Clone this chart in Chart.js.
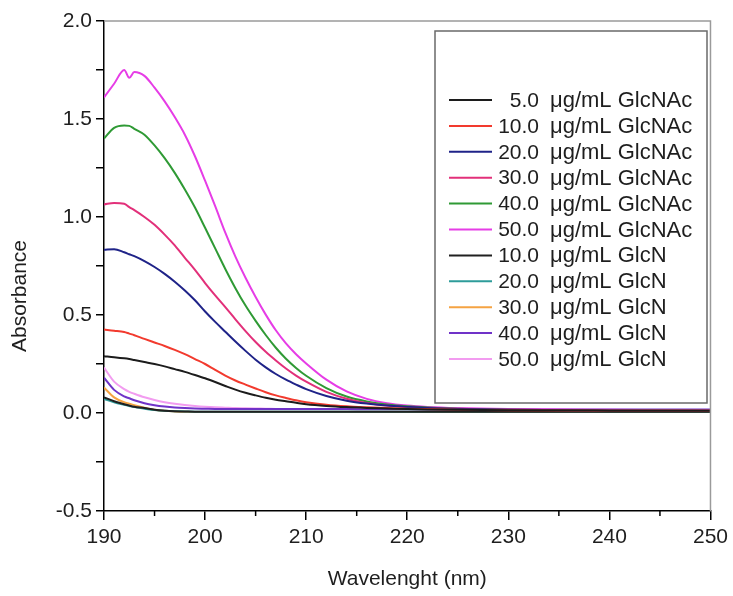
<!DOCTYPE html>
<html>
<head>
<meta charset="utf-8">
<script src="https://cdn.jsdelivr.net/npm/chart.js@4.4.1/dist/chart.umd.min.js"></script>
<style>
html, body { margin: 0; padding: 0; background: #fff; }
#wrap { width: 733px; height: 596px; }
</style>
</head>
<body>
<div id="wrap"><canvas id="chartUV" width="733" height="596"></canvas></div>
<script>
// ── Datos (absorbancia) ─────────────────────────────────────────────────────
var wavelength = [190, 191, 192, 192.5, 193, 194, 195, 196, 197, 198, 199, 200, 201, 202, 203, 204, 205, 206, 207, 208, 209, 210, 212, 214, 216, 218, 220, 222, 225, 230, 240, 250];

var glcnac5  = [0.290, 0.285, 0.279, 0.275, 0.270, 0.260, 0.250, 0.238, 0.224, 0.210, 0.194, 0.177, 0.158, 0.138, 0.119, 0.103, 0.090, 0.078, 0.068, 0.060, 0.052, 0.045, 0.036, 0.030, 0.026, 0.023, 0.020, 0.018, 0.016, 0.014, 0.012, 0.011];
var glcnac10 = [0.426, 0.420, 0.413, 0.405, 0.397, 0.378, 0.360, 0.342, 0.322, 0.300, 0.275, 0.250, 0.220, 0.191, 0.166, 0.145, 0.125, 0.106, 0.090, 0.077, 0.065, 0.055, 0.042, 0.034, 0.029, 0.025, 0.022, 0.020, 0.017, 0.014, 0.012, 0.011];
var glcnac20 = [0.833, 0.836, 0.820, 0.810, 0.800, 0.775, 0.745, 0.710, 0.670, 0.625, 0.575, 0.518, 0.465, 0.415, 0.365, 0.317, 0.272, 0.233, 0.199, 0.170, 0.145, 0.122, 0.087, 0.063, 0.048, 0.038, 0.031, 0.025, 0.020, 0.016, 0.013, 0.011];
var glcnac30 = [1.064, 1.072, 1.068, 1.050, 1.035, 1.000, 0.960, 0.910, 0.855, 0.792, 0.730, 0.663, 0.600, 0.540, 0.478, 0.418, 0.362, 0.312, 0.268, 0.227, 0.191, 0.160, 0.108, 0.073, 0.051, 0.038, 0.030, 0.025, 0.020, 0.016, 0.014, 0.012];
var glcnac40 = [1.400, 1.455, 1.467, 1.465, 1.450, 1.420, 1.365, 1.300, 1.225, 1.140, 1.048, 0.945, 0.840, 0.735, 0.637, 0.548, 0.470, 0.398, 0.333, 0.277, 0.230, 0.190, 0.127, 0.084, 0.059, 0.044, 0.034, 0.028, 0.022, 0.017, 0.014, 0.012];
var glcnac50 = [1.610, 1.680, 1.750, 1.710, 1.740, 1.720, 1.660, 1.590, 1.510, 1.420, 1.310, 1.185, 1.055, 0.920, 0.798, 0.690, 0.592, 0.502, 0.422, 0.355, 0.300, 0.253, 0.170, 0.110, 0.072, 0.050, 0.038, 0.031, 0.025, 0.020, 0.016, 0.014];
var glcn10   = [0.080, 0.060, 0.045, 0.038, 0.032, 0.025, 0.017, 0.012, 0.009, 0.008, 0.007, 0.007, 0.007, 0.007, 0.007, 0.007, 0.007, 0.007, 0.007, 0.007, 0.007, 0.007, 0.007, 0.007, 0.007, 0.007, 0.007, 0.007, 0.007, 0.007, 0.007, 0.007];
var glcn20   = [0.072, 0.055, 0.042, 0.036, 0.030, 0.022, 0.015, 0.011, 0.009, 0.008, 0.007, 0.007, 0.007, 0.007, 0.007, 0.007, 0.007, 0.007, 0.007, 0.007, 0.007, 0.007, 0.007, 0.007, 0.007, 0.007, 0.007, 0.007, 0.007, 0.007, 0.007, 0.007];
var glcn30   = [0.130, 0.080, 0.055, 0.048, 0.040, 0.027, 0.017, 0.011, 0.008, 0.006, 0.005, 0.005, 0.005, 0.005, 0.005, 0.005, 0.005, 0.005, 0.005, 0.005, 0.005, 0.005, 0.005, 0.005, 0.005, 0.005, 0.005, 0.005, 0.005, 0.005, 0.005, 0.005];
var glcn40   = [0.180, 0.118, 0.085, 0.075, 0.065, 0.050, 0.040, 0.033, 0.028, 0.025, 0.023, 0.022, 0.021, 0.021, 0.020, 0.020, 0.020, 0.020, 0.020, 0.020, 0.020, 0.020, 0.020, 0.020, 0.019, 0.019, 0.019, 0.019, 0.018, 0.018, 0.018, 0.018];
var glcn50   = [0.232, 0.160, 0.122, 0.108, 0.098, 0.080, 0.066, 0.055, 0.047, 0.041, 0.036, 0.032, 0.029, 0.027, 0.025, 0.024, 0.023, 0.022, 0.021, 0.020, 0.020, 0.020, 0.020, 0.020, 0.020, 0.020, 0.020, 0.018, 0.017, 0.016, 0.015, 0.015];

var seriesData  = [glcnac5, glcnac10, glcnac20, glcnac30, glcnac40, glcnac50, glcn10, glcn20, glcn30, glcn40, glcn50];
var concLabels  = ['5.0', '10.0', '20.0', '30.0', '40.0', '50.0', '10.0', '20.0', '30.0', '40.0', '50.0'];
var unitLabels  = ['\u03bcg/mL GlcNAc', '\u03bcg/mL GlcNAc', '\u03bcg/mL GlcNAc', '\u03bcg/mL GlcNAc', '\u03bcg/mL GlcNAc', '\u03bcg/mL GlcNAc',
                   '\u03bcg/mL GlcN', '\u03bcg/mL GlcN', '\u03bcg/mL GlcN', '\u03bcg/mL GlcN', '\u03bcg/mL GlcN'];
var lineColors  = ['#1c1c1c', '#f23a2e', '#1f2388', '#e2307a', '#2f9a35', '#e63de6',
                   '#202020', '#2e9c9a', '#f5a343', '#7033c8', '#f29cf0'];

var FONT = '"Liberation Sans", Arial, sans-serif';
var TEXT = '#1e1e1e';

// ── Plugin: marco, ticks menores, titulo Y y leyenda ─────────────────────────
var decoPlugin = {
    id: 'deco',
    afterDraw: function (chart) {
        var ctx = chart.ctx, a = chart.chartArea;
        var xs = chart.scales.x;
        ctx.save();

        // marco superior y derecho
        ctx.strokeStyle = '#9a9a9a';
        ctx.lineWidth = 1.5;
        ctx.beginPath();
        ctx.moveTo(a.left, a.top);
        ctx.lineTo(a.right, a.top);
        ctx.lineTo(a.right, a.bottom);
        ctx.stroke();

        // ticks menores eje X
        ctx.strokeStyle = '#000';
        ctx.lineWidth = 1.5;
        for (var w = 195; w < 250; w += 10) {
            var px = xs.getPixelForValue(w);
            ctx.beginPath();
            ctx.moveTo(px, a.bottom);
            ctx.lineTo(px, a.bottom + 5);
            ctx.stroke();
        }

        // titulo eje Y
        ctx.fillStyle = TEXT;
        ctx.font = '21px ' + FONT;
        ctx.textAlign = 'center';
        ctx.textBaseline = 'middle';
        ctx.translate(20, 296);
        ctx.rotate(-Math.PI / 2);
        ctx.fillText('Absorbance', 0, 0);
        ctx.restore();

        // leyenda
        ctx.save();
        ctx.strokeStyle = '#6a6a6a';
        ctx.lineWidth = 1.5;
        ctx.fillStyle = '#fff';
        ctx.fillRect(435, 31, 272, 372);
        ctx.strokeRect(435, 31, 272, 372);
        ctx.textBaseline = 'middle';
        for (var i = 0; i < concLabels.length; i++) {
            var y = 100 + i * 25.9;
            ctx.strokeStyle = lineColors[i];
            ctx.lineWidth = 2;
            ctx.beginPath();
            ctx.moveTo(449, y);
            ctx.lineTo(492, y);
            ctx.stroke();
            ctx.fillStyle = TEXT;
            ctx.font = '21px ' + FONT;
            ctx.textAlign = 'right';
            ctx.fillText(concLabels[i], 539, y + 1);
            ctx.font = '22px ' + FONT;
            ctx.textAlign = 'left';
            ctx.fillText(unitLabels[i], 550, y + 1);
        }
        ctx.restore();
    }
};

var datasets = seriesData.map(function (arr, i) {
    return {
        label: concLabels[i] + ' ' + unitLabels[i],
        data: wavelength.map(function (w, j) { return { x: w, y: arr[j] }; }),
        borderColor: lineColors[i],
        borderWidth: 2,
        pointRadius: 0,
        cubicInterpolationMode: 'monotone',
        fill: false
    };
});

var chartUV = new Chart(document.getElementById('chartUV'), {
    type: 'line',
    data: { datasets: datasets },
    options: {
        responsive: false,
        animation: false,
        layout: { padding: { top: 21, right: 22, left: 0, bottom: 0 } },
        plugins: {
            legend: { display: false },
            tooltip: { enabled: false }
        },
        scales: {
            x: {
                type: 'linear',
                min: 190, max: 250,
                border: { color: '#000', width: 1.5 },
                grid: { drawOnChartArea: false, drawTicks: true, tickLength: 9, color: '#000', lineWidth: 1.5 },
                ticks: { stepSize: 10, color: TEXT, font: { family: FONT, size: 21 }, padding: 5, maxRotation: 0 },
                title: { display: true, text: 'Wavelenght (nm)', color: TEXT, font: { family: FONT, size: 21 }, padding: { top: 13 } },
                afterFit: function (s) { s.height = 85; }
            },
            y: {
                min: -0.5, max: 2.0,
                border: { color: '#000', width: 1.5 },
                grid: { drawOnChartArea: false, drawTicks: true, tickLength: 8, color: '#000', lineWidth: 1.5 },
                ticks: {
                    stepSize: 0.25, autoSkip: false, color: TEXT, font: { family: FONT, size: 21 }, padding: 4,
                    callback: function (v) {
                        var h = Math.round(v * 4);
                        return (h % 2 === 0) ? v.toFixed(1) : '';
                    }
                },
                afterFit: function (s) { s.width = 104; }
            }
        }
    },
    plugins: [decoPlugin]
});
</script>
</body>
</html>
